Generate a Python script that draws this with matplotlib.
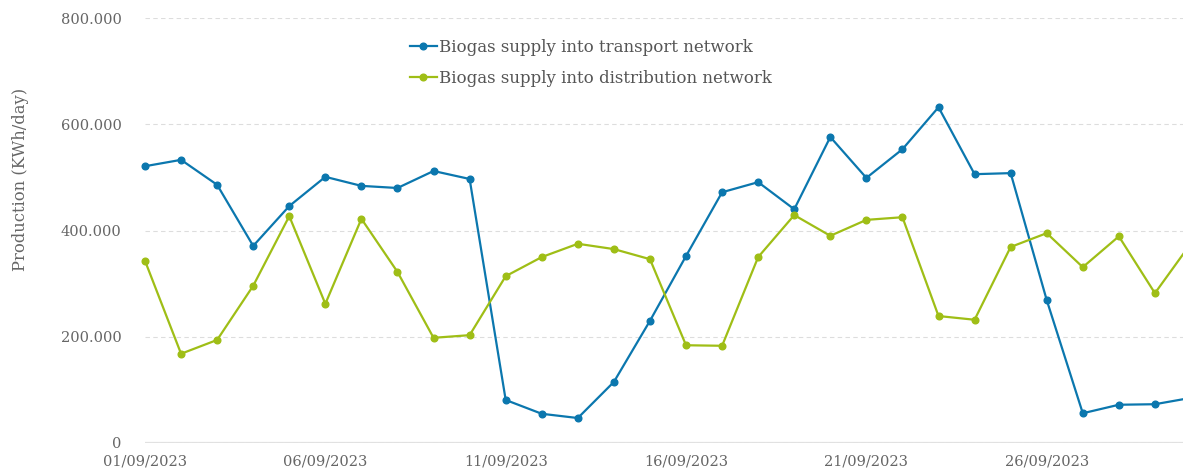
import matplotlib
matplotlib.use("Agg")
import matplotlib.pyplot as plt
from matplotlib.ticker import FuncFormatter, FixedLocator
import numpy as np

dates = [f"{d:02d}/09/2023" for d in range(1, 31)]
transport = [521, 533, 486, 371, 446, 501, 484, 480, 512, 497,
             81, 55, 47, 115, 230, 352, 472, 491, 440, 576,
             499, 553, 632, 506, 508, 269, 56, 72, 73, 85]
distribution = [343, 168, 194, 296, 427, 262, 422, 322, 198, 203,
                314, 350, 375, 365, 346, 184, 183, 350, 429, 390,
                420, 425, 239, 232, 369, 395, 331, 389, 282, 376]
transport = [v * 1000 for v in transport]
distribution = [v * 1000 for v in distribution]
tick_idx = [0, 5, 10, 15, 20, 25]
yticks = [0, 200000, 400000, 600000, 800000]

plt.rcParams['font.family'] = ['DejaVu Serif']
W, H = 1183, 475
fig = plt.figure(figsize=(W / 100, H / 100), dpi=100)
left = 145 / W
right = 1191 / W
bottom = (H - 443) / H
top = (H - 18) / H
ax = fig.add_axes([left, bottom, right - left, top - bottom])

x = np.arange(len(dates))
blue = "#0b77ae"
green = "#9fbe16"
ax.plot(x, transport, color=blue, lw=1.6, marker='o', ms=4.8,
        label="Biogas supply into transport network", clip_on=False)
ax.plot(x, distribution, color=green, lw=1.6, marker='o', ms=4.8,
        label="Biogas supply into distribution network", clip_on=False)

ax.set_xlim(0, 29)
ax.set_ylim(0, 800000)
ax.set_xticks([x[i] for i in tick_idx])
ax.set_xticklabels([dates[i] for i in tick_idx])
ax.yaxis.set_major_locator(FixedLocator(yticks))
ax.yaxis.set_major_formatter(FuncFormatter(lambda v, p: f"{int(v):,}".replace(",", ".")))

for s in ax.spines.values():
    s.set_visible(False)
ax.grid(axis='y', color='#dddddd', ls=(0, (4, 3)), lw=0.8)
ax.axhline(0, color='#e2e2e2', lw=1.6, zorder=1)
ax.tick_params(axis='both', length=0, labelsize=10.5, colors='#666666')
ax.tick_params(axis='y', pad=17)
ax.tick_params(axis='x', pad=8)
ax.set_ylabel("Production (KWh/day)", fontsize=11.8, color='#666666')
ax.yaxis.set_label_coords(-(145 - 21) / (1191 - 145), (443 - 179) / 425)
ax.yaxis.label.set_va('center')

leg = ax.legend(loc='upper left', bbox_to_anchor=((410 - 145) / (1191 - 145), 1 - (39 - 18) / 425),
                frameon=False, fontsize=12, handlelength=1.6, handletextpad=0.15,
                labelspacing=0.85, borderaxespad=0, borderpad=0)
for t in leg.get_texts():
    t.set_color('#555555')

fig.savefig("out.png", dpi=100)
